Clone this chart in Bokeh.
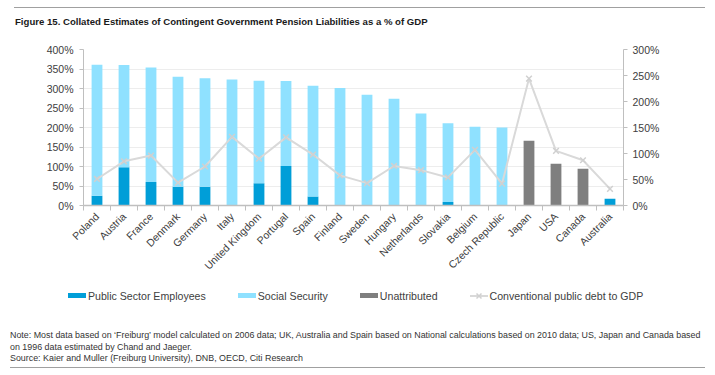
from bokeh.plotting import figure
from bokeh.layouts import column
from bokeh.models import (Range1d, LinearAxis, FixedTicker, PrintfTickFormatter,
                          ColumnDataSource, Div)
from bokeh.embed import file_html
from bokeh.resources import INLINE
import math

countries = ["Poland", "Austria", "France", "Denmark", "Germany", "Italy",
             "United Kingdom", "Portugal", "Spain", "Finland", "Sweden", "Hungary",
             "Netherlands", "Slovakia", "Belgium", "Czech Republic", "Japan", "USA",
             "Canada", "Australia"]
public_sector = [25, 98, 60, 48, 48, 0, 57, 101, 23, 0, 0, 0, 0, 9, 0, 0, 0, 0, 0, 17]
social_security = [336, 262, 294, 282, 278, 323, 263, 218, 284, 301, 284, 274, 236, 202, 202, 200, 0, 0, 0, 0]
unattributed = [0, 0, 0, 0, 0, 0, 0, 0, 0, 0, 0, 0, 0, 0, 0, 0, 166, 107, 94, 0]
public_debt = [51, 85, 96, 44, 75, 132, 90, 131, 98, 58, 43, 76, 68, 54, 107, 42, 244, 105, 87, 32]
left_ticks = [0, 50, 100, 150, 200, 250, 300, 350, 400]
right_ticks = [0, 50, 100, 150, 200, 250, 300]
series_names = ["Public Sector Employees", "Social Security", "Unattributed",
                "Conventional public debt to GDP"]
title_text = "Figure 15. Collated Estimates of Contingent Government Pension Liabilities as a % of GDP"
notes = ["Note: Most data based on \u2018Freiburg\u2019 model calculated on 2006 data; UK, Australia and Spain based on National calculations based on 2010 data; US, Japan and Canada based",
         "on 1996 data estimated by Chand and Jaeger.",
         "Source: Kaier and Muller (Freiburg University), DNB, OECD, Citi Research"]

FONT = "Liberation Sans"
TXT = "#404040"
AX = "#bfbfbf"
COLORS = ["#009ED8", "#8FE1FF", "#7F7F7F"]
LINE_C = "#d9d9d9"
MARK_C = "#d0d0d0"
W = 715

# ---- top: rule + title (HTML)
TOP_H = 41
top_html = (
    '<div style="position:relative;width:715px;height:41px;">'
    '<div style="position:absolute;left:14px;top:7px;width:691px;height:0;border-top:1px solid #a0a0a0;"></div>'
    '<div style="position:absolute;left:15px;top:15.7px;white-space:nowrap;line-height:12px;'
    'font-family:\'Liberation Sans\';font-weight:bold;font-size:9.6px;color:#1a1a1a;">'
    + title_text.replace("%", "&#37;") + '</div></div>')
top = Div(text=top_html, width=W, height=TOP_H, styles={"margin": "0", "padding": "0"})

# ---- main chart
MAIN_H = 239
xs = list(range(len(countries)))
src = ColumnDataSource(dict(x=xs, pse=public_sector, ss=social_security, un=unattributed, debt=public_debt))

p = figure(width=W, height=MAIN_H, output_backend="svg", toolbar_location=None,
           x_range=Range1d(-0.5, len(countries) - 0.5), y_range=Range1d(0, 400),
           min_border_left=83, min_border_right=92, min_border_top=8, min_border_bottom=75,
           outline_line_color=None)
p.extra_y_ranges = {"debt": Range1d(0, 300)}

p.vbar_stack(["pse", "ss", "un"], x="x", width=0.4, source=src, color=COLORS, line_color=None)
p.line("x", "debt", source=src, y_range_name="debt", line_color=LINE_C, line_width=2)
p.scatter("x", "debt", source=src, y_range_name="debt", marker="x", size=8,
          line_color=MARK_C, line_width=1.5)

xa = p.xaxis[0]
xa.ticker = FixedTicker(ticks=xs, minor_ticks=[i - 0.5 for i in range(len(countries) + 1)])
xa.major_label_overrides = {i: c for i, c in enumerate(countries)}
xa.major_label_orientation = math.pi / 4
xa.major_tick_line_color = None
xa.major_tick_out = 0
xa.major_tick_in = 0
xa.minor_tick_out = 5
xa.minor_tick_in = 0
xa.minor_tick_line_color = AX
xa.axis_line_color = AX
xa.axis_line_width = 1.5
xa.major_label_standoff = 4
xa.major_label_text_font = FONT
xa.major_label_text_font_size = "10.5px"
xa.major_label_text_color = TXT

ya = p.yaxis[0]
ya.ticker = FixedTicker(ticks=left_ticks)
ya.formatter = PrintfTickFormatter(format="%d%%")
ya.major_tick_out = 4
ya.major_tick_in = 0
ya.minor_tick_line_color = None
ya.major_tick_line_color = AX
ya.axis_line_color = AX
ya.major_label_standoff = 6
ya.major_label_text_font = FONT
ya.major_label_text_font_size = "10.5px"
ya.major_label_text_color = TXT

ra = LinearAxis(y_range_name="debt", ticker=FixedTicker(ticks=right_ticks),
                formatter=PrintfTickFormatter(format="%d%%"))
ra.major_tick_out = 4
ra.major_tick_in = 0
ra.minor_tick_line_color = None
ra.major_tick_line_color = AX
ra.axis_line_color = AX
ra.major_label_standoff = 5
ra.major_label_text_font = FONT
ra.major_label_text_font_size = "10.5px"
ra.major_label_text_color = TXT
p.add_layout(ra, "right")

p.xgrid.grid_line_color = None
p.ygrid.ticker = FixedTicker(ticks=left_ticks)
p.ygrid.grid_line_color = "#ededed"

# ---- bottom: legend + notes + rule (HTML)
BOT_H = 375 - TOP_H - MAIN_H
swatch = '<span style="display:inline-block;width:18px;height:5px;background:%s;margin-right:2px;"></span>'
line_sw = ('<svg width="18" height="8" style="margin-right:2px;">'
           '<line x1="0" y1="4" x2="18" y2="4" stroke="%s" stroke-width="2"/>'
           '<path d="M6.5 1.5 L11.5 6.5 M11.5 1.5 L6.5 6.5" stroke="%s" stroke-width="1.5"/></svg>'
           % (LINE_C, MARK_C))
leg_parts = []
for i, name in enumerate(series_names):
    glyph = swatch % COLORS[i] if i < 3 else line_sw
    mr = "32px" if i < 3 else "0"
    leg_parts.append('<span style="display:inline-flex;align-items:center;margin-right:%s;">%s<span>%s</span></span>'
                     % (mr, glyph, name))
legend_html = ('<div style="position:absolute;left:68px;top:9.7px;height:12px;display:flex;align-items:center;'
               'white-space:nowrap;font-family:\'Liberation Sans\';font-size:10.6px;line-height:12px;color:%s;">'
               % TXT + "".join(leg_parts) + '</div>')
note_html = "<br>".join(n for n in notes)
bot_html = (
    '<div style="position:relative;width:715px;height:%dpx;">' % BOT_H + legend_html +
    '<div style="position:absolute;left:10px;top:50px;white-space:nowrap;line-height:11.5px;'
    'font-family:\'Liberation Sans\';font-size:8.9px;color:#333333;">' + note_html + '</div>'
    '<div style="position:absolute;left:10px;top:87px;width:695px;height:0;border-top:1px solid #a0a0a0;"></div>'
    '</div>')
bot = Div(text=bot_html, width=W, height=BOT_H, styles={"margin": "0", "padding": "0"})

layout = column(top, p, bot, spacing=0)
open("out.html", "w").write(file_html(layout, INLINE))
